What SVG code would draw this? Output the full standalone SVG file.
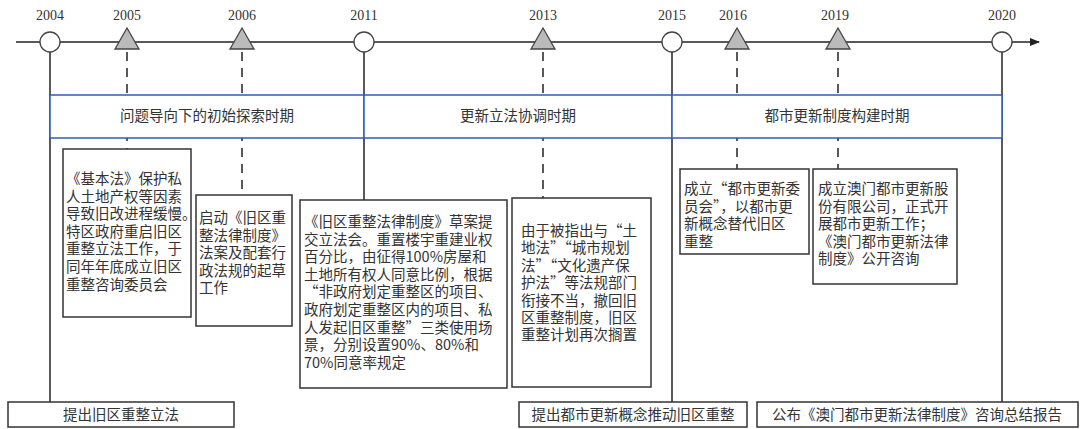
<svg xmlns="http://www.w3.org/2000/svg" width="1080" height="429" viewBox="0 0 1080 429">
<defs>
<marker id="ah" markerWidth="10" markerHeight="8" refX="9" refY="4" orient="auto" markerUnits="userSpaceOnUse"><path d="M0,0 L10,4 L0,8 Z" fill="#222"/></marker>
<style>
.yr{font-family:"Liberation Serif",serif;font-size:14px;fill:#333;text-anchor:middle}
.t{font-family:"Noto Sans CJK SC",sans-serif;font-size:14.5px;fill:#333}
.c{text-anchor:middle}
.box{fill:#fff;stroke:#333;stroke-width:1.5}
.ln{stroke:#222;stroke-width:1.5;fill:none}
.dl{stroke:#222;stroke-width:1.5;stroke-dasharray:9,7;fill:none}
.cir{fill:#fff;stroke:#444;stroke-width:1.3}
.tri{fill:#bbb;stroke:#444;stroke-width:1.3}
.band{fill:#fff;stroke:#2f5fb3;stroke-width:1.5}
</style>
</defs>
<g id="connectors">
<line class="ln" x1="16" y1="42" x2="1039" y2="42" marker-end="url(#ah)"/>
<line class="ln" x1="50" y1="52" x2="50" y2="402"/>
<line class="ln" x1="364" y1="52" x2="364" y2="200"/>
<line class="ln" x1="672" y1="52" x2="672" y2="402"/>
<line class="ln" x1="1002" y1="52" x2="1002" y2="402"/>
<line class="dl" x1="127" y1="52" x2="127" y2="149"/>
<line class="dl" x1="242" y1="52" x2="242" y2="195"/>
<line class="dl" x1="543" y1="52" x2="543" y2="198"/>
<line class="dl" x1="737" y1="52" x2="737" y2="169"/>
<line class="dl" x1="838" y1="52" x2="838" y2="169"/>
</g>
<g id="bands">
<rect class="band" x="50" y="95" width="314" height="43"/>
<rect class="band" x="364" y="95" width="308" height="43"/>
<rect class="band" x="672" y="95" width="330" height="43"/>
<text class="t c" x="207" y="121" font-size="15">问题导向下的初始探索时期</text>
<text class="t c" x="518" y="121" font-size="15">更新立法协调时期</text>
<text class="t c" x="837" y="121" font-size="15">都市更新制度构建时期</text>
</g>
<g id="markers">
<circle class="cir" cx="50" cy="42" r="10"/><text class="yr" x="50" y="20">2004</text>
<polygon class="tri" points="127,28 115,49 139,49"/><text class="yr" x="127" y="20">2005</text>
<polygon class="tri" points="242,28 230,49 254,49"/><text class="yr" x="242" y="20">2006</text>
<circle class="cir" cx="364" cy="42" r="10"/><text class="yr" x="364" y="20">2011</text>
<polygon class="tri" points="543,28 531,49 555,49"/><text class="yr" x="543" y="20">2013</text>
<circle class="cir" cx="672" cy="42" r="10"/><text class="yr" x="672" y="20">2015</text>
<polygon class="tri" points="737,28 725,49 749,49"/><text class="yr" x="733" y="20">2016</text>
<polygon class="tri" points="838,28 826,49 850,49"/><text class="yr" x="835" y="20">2019</text>
<circle class="cir" cx="1002" cy="42" r="10"/><text class="yr" x="1002" y="20">2020</text>
</g>
<g id="n2005">
<rect class="box" x="63" y="149" width="128" height="168"/>
<text class="t" x="66" y="184"><tspan x="66">《基本法》保护私</tspan><tspan x="66" dy="17.6">人土地产权等因素</tspan><tspan x="66" dy="17.6">导致旧改进程缓慢。</tspan><tspan x="66" dy="17.6">特区政府重启旧区</tspan><tspan x="66" dy="17.6">重整立法工作，于</tspan><tspan x="66" dy="17.6">同年年底成立旧区</tspan><tspan x="66" dy="17.6">重整咨询委员会</tspan></text>
</g>
<g id="n2006">
<rect class="box" x="196" y="195" width="96" height="131"/>
<text class="t" x="199" y="223"><tspan x="199">启动《旧区重</tspan><tspan x="199" dy="17.6">整法律制度》</tspan><tspan x="199" dy="17.6">法案及配套行</tspan><tspan x="199" dy="17.6">政法规的起草</tspan><tspan x="199" dy="17.6">工作</tspan></text>
</g>
<g id="n2011">
<rect class="box" x="300" y="200" width="207" height="188"/>
<text class="t" x="304" y="227"><tspan x="304">《旧区重整法律制度》草案提</tspan><tspan x="304" dy="17.6">交立法会。重置楼宇重建业权</tspan><tspan x="304" dy="17.6">百分比，由征得100%房屋和</tspan><tspan x="304" dy="17.6">土地所有权人同意比例，根据</tspan><tspan x="304" dy="17.6">“非政府划定重整区的项目、</tspan><tspan x="304" dy="17.6">政府划定重整区内的项目、私</tspan><tspan x="304" dy="17.6">人发起旧区重整”三类使用场</tspan><tspan x="304" dy="17.6">景，分别设置90%、80%和</tspan><tspan x="304" dy="17.6">70%同意率规定</tspan></text>
</g>
<g id="n2013">
<rect class="box" x="512" y="198" width="139" height="189"/>
<text class="t" x="521" y="236"><tspan x="521">由于被指出与“土</tspan><tspan x="521" dy="17.4">地法”“城市规划</tspan><tspan x="521" dy="17.4">法”“文化遗产保</tspan><tspan x="521" dy="17.4">护法”等法规部门</tspan><tspan x="521" dy="17.4">衔接不当，撤回旧</tspan><tspan x="521" dy="17.4">区重整制度，旧区</tspan><tspan x="521" dy="17.4">重整计划再次搁置</tspan></text>
</g>
<g id="n2016">
<rect class="box" x="680" y="169" width="129" height="85"/>
<text class="t" x="684" y="194"><tspan x="684">成立“都市更新委</tspan><tspan x="684" dy="17.6">员会”，以都市更</tspan><tspan x="684" dy="17.6">新概念替代旧区</tspan><tspan x="684" dy="17.6">重整</tspan></text>
</g>
<g id="n2019">
<rect class="box" x="813" y="169" width="144" height="115"/>
<text class="t" x="818" y="194"><tspan x="818">成立澳门都市更新股</tspan><tspan x="818" dy="17.6">份有限公司，正式开</tspan><tspan x="818" dy="17.6">展都市更新工作；</tspan><tspan x="818" dy="17.6">《澳门都市更新法律</tspan><tspan x="818" dy="17.6">制度》公开咨询</tspan></text>
</g>
<g id="b2004">
<rect class="box" x="8" y="402" width="226" height="25"/>
<text class="t c" x="121" y="420" font-size="15">提出旧区重整立法</text>
</g>
<g id="b2015">
<rect class="box" x="519" y="402" width="228" height="25"/>
<text class="t c" x="633" y="420" font-size="15">提出都市更新概念推动旧区重整</text>
</g>
<g id="b2020">
<rect class="box" x="757" y="402" width="321" height="25"/>
<text class="t c" x="917" y="420" font-size="15">公布《澳门都市更新法律制度》咨询总结报告</text>
</g>
</svg>
